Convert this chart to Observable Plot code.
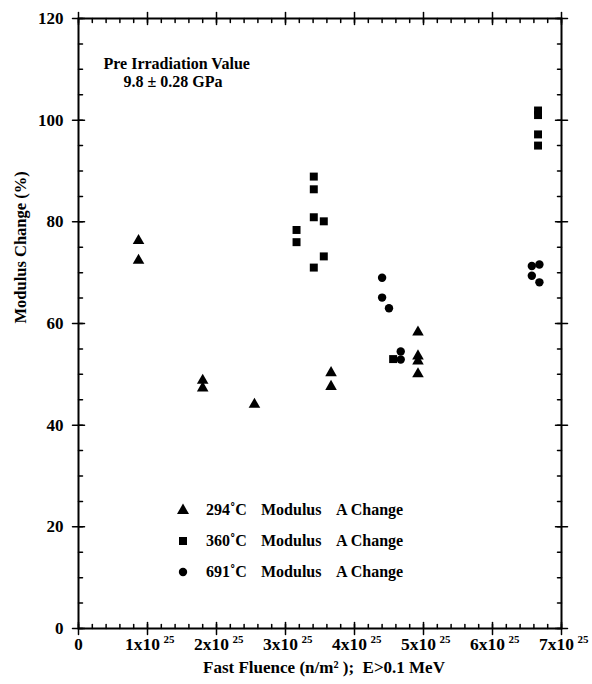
<!DOCTYPE html>
<html>
<head>
<meta charset="utf-8">
<script src="https://cdn.jsdelivr.net/npm/d3@7"></script>
<script src="https://cdn.jsdelivr.net/npm/@observablehq/plot@0.6"></script>
<style>
  html, body { margin: 0; padding: 0; background: #fff; }
  #wrap { position: relative; width: 592px; height: 684px; font-family: "Liberation Serif", "Times New Roman", serif; font-weight: bold; }
  .leg { position: absolute; font-size: 16px; white-space: pre; line-height: 1; }
  .leg span { position: absolute; top: 0; }
  .leg svg { position: absolute; }
</style>
</head>
<body>
<div id="wrap"></div>
<script>
// ---- data (x in units of 1e25 n/m^2, y in % modulus change) ----
const x294 = [0.87, 0.87, 1.80, 1.80, 2.55, 3.66, 3.66, 4.92, 4.92, 4.92, 4.92];
const y294 = [76.3, 72.4, 48.8, 47.3, 44.1, 50.3, 47.6, 58.3, 53.6, 52.6, 50.1];
const x360 = [3.16, 3.16, 3.41, 3.41, 3.41, 3.41, 3.555, 3.555, 4.56, 6.66, 6.66, 6.66, 6.66];
const y360 = [78.4, 76.0, 88.9, 86.4, 80.9, 71.0, 80.1, 73.2, 53.0, 101.9, 101.0, 97.2, 95.0];
const x691 = [4.40, 4.40, 4.50, 4.67, 4.67, 6.57, 6.68, 6.57, 6.68];
const y691 = [69.0, 65.1, 63.0, 54.5, 52.9, 71.3, 71.6, 69.4, 68.1];

const xMajor = [0, 1, 2, 3, 4, 5, 6, 7];
const xMinor = d3.range(0, 7.001, 0.2).map(v => +v.toFixed(1));
const yMajor = [0, 20, 40, 60, 80, 100, 120];
const yMinor = d3.range(0, 121, 5);
const seriesLabels = ["294˚C", "360˚C", "691˚C"];
const seriesSymbols = ["triangle", "square", "circle"];

const pts = [
  ...x294.map((x, i) => ({x, y: y294[i], s: 0})),
  ...x360.map((x, i) => ({x, y: y360[i], s: 1})),
  ...x691.map((x, i) => ({x, y: y691[i], s: 2}))
];

const font = `"Liberation Serif", "Times New Roman", serif`;
const tickShape = {draw(ctx, l) { ctx.moveTo(0, 0); ctx.lineTo(0, -l); }};
const tk = {shape: tickShape, stroke: "black", strokeWidth: 1.5};

const chart = Plot.plot({
  width: 592,
  height: 684,
  marginLeft: 78,
  marginRight: 31,
  marginTop: 18,
  marginBottom: 56,
  style: {fontFamily: font, fontWeight: "bold", fontSize: "17px", color: "black", background: "white"},
  x: {domain: [0, 7], axis: null},
  y: {domain: [0, 120], axis: null},
  symbol: {domain: [0, 1, 2], range: seriesSymbols},
  marks: [
    // minor ticks (inward) on all four sides
    Plot.vector(xMinor, {x: d => d, frameAnchor: "bottom", length: 4, rotate: 0, anchor: "start", ...tk}),
    Plot.vector(xMinor, {x: d => d, frameAnchor: "top", length: 4, rotate: 180, anchor: "start", ...tk}),
    Plot.vector(yMinor, {y: d => d, frameAnchor: "left", length: 4, rotate: 90, anchor: "start", ...tk}),
    Plot.vector(yMinor, {y: d => d, frameAnchor: "right", length: 4, rotate: -90, anchor: "start", ...tk}),
    // major ticks crossing the frame
    Plot.vector(xMajor, {x: d => d, frameAnchor: "bottom", length: 12, rotate: 0, anchor: "middle", ...tk}),
    Plot.vector(xMajor, {x: d => d, frameAnchor: "top", length: 12, rotate: 0, anchor: "middle", ...tk}),
    Plot.vector(yMajor, {y: d => d, frameAnchor: "left", length: 12, rotate: 90, anchor: "middle", ...tk}),
    Plot.vector(yMajor, {y: d => d, frameAnchor: "right", length: 12, rotate: 90, anchor: "middle", ...tk}),
    Plot.frame({stroke: "black", strokeWidth: 2}),
    // y tick labels
    Plot.text(yMajor, {y: d => d, frameAnchor: "left", dx: -15, textAnchor: "end", text: d => String(d), fontSize: 17, fontWeight: "bold"}),
    // x tick labels
    Plot.text([0], {x: d => d, frameAnchor: "bottom", dy: 21, text: d => String(d), fontSize: 17, fontWeight: "bold"}),
    Plot.text(xMajor.filter(d => d > 0), {x: d => d, frameAnchor: "bottom", dy: 21, dx: -5, text: d => `${d}x10`, fontSize: 17.5, fontWeight: "bold"}),
    Plot.text(xMajor.filter(d => d > 0), {x: d => d, frameAnchor: "bottom", dy: 14, dx: 16, textAnchor: "start", text: () => "25", fontSize: 11, fontWeight: "bold"}),
    // axis titles
    Plot.text(["Fast Fluence (n/m² );  E>0.1 MeV"], {frameAnchor: "bottom", dy: 44, dx: 4, text: d => d, fontSize: 17, fontWeight: "bold"}),
    Plot.text(["Modulus Change (%)"], {frameAnchor: "left", dx: -58, rotate: -90, text: d => d, fontSize: 16.5, fontWeight: "bold"}),
    // annotation
    Plot.text(["Pre Irradiation Value"], {frameAnchor: "top-left", dx: 25, dy: 39, textAnchor: "start", text: d => d, fontSize: 16, fontWeight: "bold"}),
    Plot.text(["9.8 ± 0.28 GPa"], {frameAnchor: "top-left", dx: 45, dy: 57, textAnchor: "start", text: d => d, fontSize: 16, fontWeight: "bold"}),
    // data
    Plot.dot(pts.filter(d => d.s === 0), {x: "x", y: "y", symbol: "s", r: 4.3, fill: "black", stroke: "none"}),
    Plot.dot(pts.filter(d => d.s === 1), {x: "x", y: "y", symbol: "s", r: 4.5, fill: "black", stroke: "none"}),
    Plot.dot(pts.filter(d => d.s === 2), {x: "x", y: "y", symbol: "s", r: 4.2, fill: "black", stroke: "none"})
  ]
});

const wrap = document.getElementById("wrap");
wrap.appendChild(chart);
chart.querySelectorAll("text").forEach(t => { t.setAttribute("xml:space", "preserve"); t.style.whiteSpace = "pre"; });

// legend overlay
const legendRows = [510, 541, 572];
const shapes = [
  '<polygon points="6,0.5 12,11 0,11" fill="black"/>',
  '<rect x="2" y="2" width="8" height="8" fill="black"/>',
  '<circle cx="6" cy="6" r="4.2" fill="black"/>'
];
seriesLabels.forEach((lab, i) => {
  const row = document.createElement("div");
  row.className = "leg";
  row.style.left = "0px";
  row.style.top = (legendRows[i] - 8) + "px";
  row.style.width = "592px";
  row.innerHTML = `<svg width="12" height="12" style="left:${183 - 6}px; top:${i === 0 ? 1 : 2}px">${shapes[i]}</svg>` +
    `<span style="left:206px">${lab}</span><span style="left:261px">Modulus</span><span style="left:336px">A Change</span>`;
  wrap.appendChild(row);
});
</script>
</body>
</html>
